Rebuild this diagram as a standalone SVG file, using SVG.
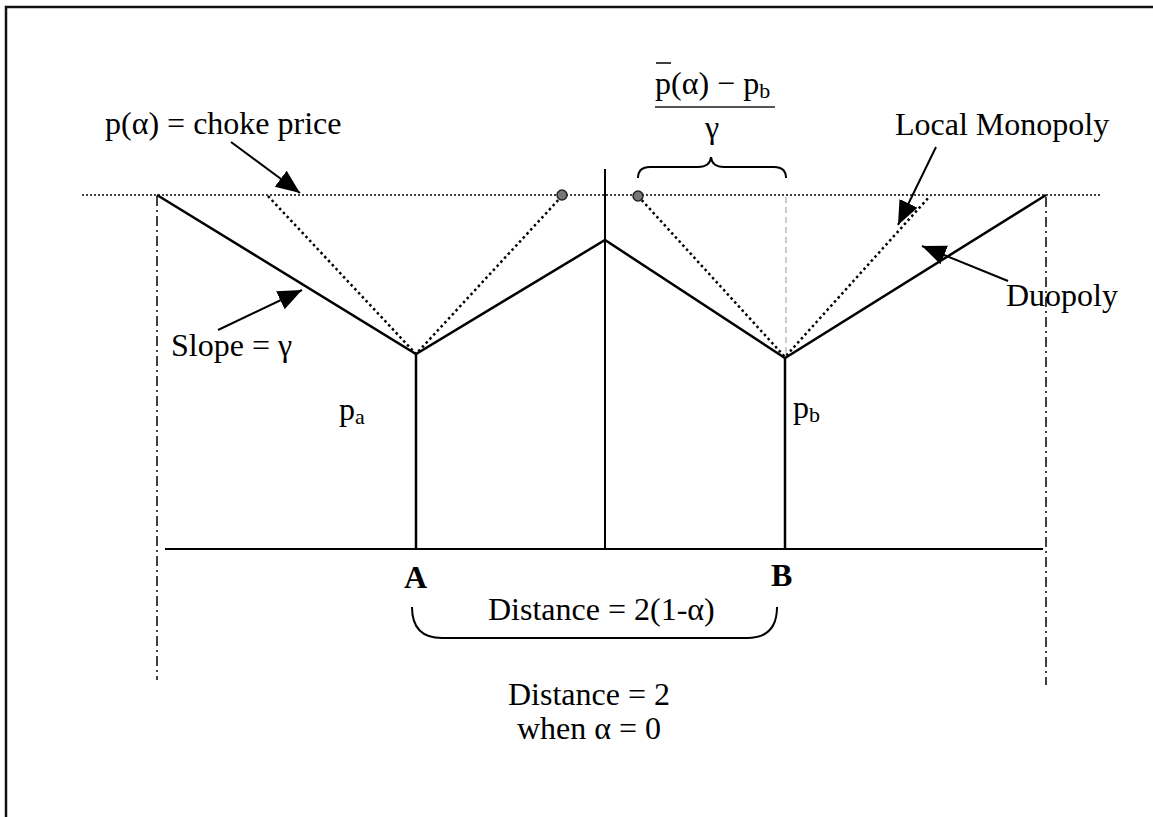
<svg xmlns="http://www.w3.org/2000/svg" width="1153" height="817" viewBox="0 0 1153 817">
<style>
text{font-family:"Liberation Serif","Times New Roman",serif;font-size:32px;fill:#000}
.solid{stroke:#000;stroke-width:2.5;fill:none}
.thin{stroke:#000;stroke-width:2;fill:none}
.dot{stroke:#000;stroke-width:2.5;stroke-dasharray:2.5 3;fill:none}
.hdot{stroke:#000;stroke-width:1.5;stroke-dasharray:2 2;fill:none}
.dashdot{stroke:#000;stroke-width:1.5;stroke-dasharray:10 4 2 4;fill:none}
.gdash{stroke:#aaa;stroke-width:1.2;stroke-dasharray:6 4;fill:none}
.arrow{stroke:#000;stroke-width:2;fill:none;marker-end:url(#ah)}
.brace{stroke:#000;stroke-width:2;fill:none}
.pt{fill:#777;stroke:#222;stroke-width:1.5}
</style>
<defs>
<marker id="ah" markerUnits="userSpaceOnUse" markerWidth="26" markerHeight="22" refX="24" refY="10" orient="auto">
<path d="M0,0 L24,10 L0,20 Z" fill="#000"/>
</marker>
</defs>
<rect x="6" y="7" width="1200" height="900" fill="#fff" stroke="#111" stroke-width="2.5"/>

<g id="axes">
<line class="hdot" x1="82" y1="195" x2="1100" y2="195"/>
<line class="dashdot" x1="157" y1="196" x2="157" y2="680"/>
<line class="dashdot" x1="1046" y1="197" x2="1046" y2="685"/>
<line class="thin" x1="165" y1="549" x2="1043" y2="549"/>
<line class="thin" x1="605" y1="169" x2="605" y2="549"/>
<line class="gdash" x1="786" y1="197" x2="786" y2="356"/>
</g>

<g id="duopoly">
<polyline class="solid" points="157,195 416,354 605,240 785,358 1046,195"/>
<line class="solid" x1="416" y1="354" x2="416" y2="549"/>
<line class="solid" x1="785" y1="358" x2="785" y2="549"/>
</g>

<g id="monopoly">
<polyline class="dot" points="268,196 416,354 562,196"/>
<polyline class="dot" points="638,196 785,357 930,196"/>
<circle class="pt" cx="562" cy="195" r="5"/>
<circle class="pt" cx="638" cy="196" r="5"/>
</g>

<g id="connectors">
<line class="arrow" x1="231" y1="142" x2="300" y2="193"/>
<line class="arrow" x1="936" y1="147" x2="898" y2="225"/>
<line class="arrow" x1="218" y1="330" x2="302" y2="290"/>
<line class="arrow" x1="1008" y1="281" x2="922" y2="246"/>
</g>

<g id="braces">
<path class="brace" d="M638,178 Q638,167 650,167 L698,167 Q710,167 711,157 Q712,167 724,167 L774,167 Q786,167 786,178"/>
<path class="brace" d="M412,607 Q412,638 442,638 L747,638 Q777,638 777,607"/>
</g>

<g id="labels">
<text x="105" y="134">p(α) = choke price</text>
<text x="895" y="135">Local Monopoly</text>
<text x="1006" y="306">Duopoly</text>
<text x="171" y="356">Slope = γ</text>
<text x="339" y="420">p<tspan font-size="22" dy="4">a</tspan></text>
<text x="793" y="418">p<tspan font-size="22" dy="4">b</tspan></text>
<text x="404" y="588" font-weight="bold">A</text>
<text x="771" y="586" font-weight="bold">B</text>
<text x="488" y="620">Distance = 2(1-α)</text>
<text x="589" y="705" text-anchor="middle">Distance = 2</text>
<text x="589" y="739" text-anchor="middle">when α = 0</text>
</g>

<g id="fraction">
<text x="655" y="94">p(α) − p<tspan font-size="22" dy="4">b</tspan></text>
<line x1="656" y1="63" x2="671" y2="63" stroke="#000" stroke-width="1.5"/>
<line x1="655" y1="107" x2="775" y2="107" stroke="#555" stroke-width="2"/>
<text x="712" y="138" text-anchor="middle">γ</text>
</g>
</svg>
